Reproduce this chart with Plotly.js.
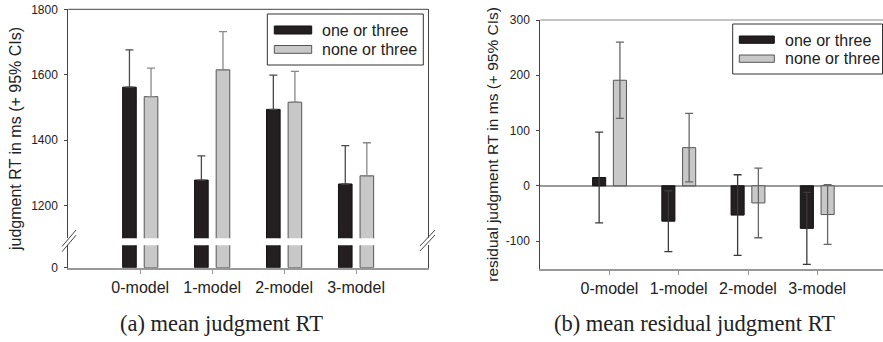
<!DOCTYPE html>
<html>
<head>
<meta charset="utf-8">
<script src="https://cdn.plot.ly/plotly-3.0.1.min.js"></script>
<style>
  html, body { margin: 0; padding: 0; background: #fff; }
  #chart { width: 883px; height: 342px; }
</style>
</head>
<body>
<div id="chart"></div>
<script>
// ---- data ----
const categories = ['0-model', '1-model', '2-model', '3-model'];
const seriesNames = ['one or three', 'none or three'];

// (a) mean judgment RT (ms) and 95% CI half-widths
const meanRT_one  = [1562, 1278, 1494, 1266];
const meanRT_none = [1533, 1615, 1516, 1291];
const ciRT_one    = [114, 74, 105, 117];
const ciRT_none   = [87, 117, 94, 101];

// (b) mean residual judgment RT (ms) and 95% CI half-widths
const resid_one    = [15, -64, -53, -77];
const resid_none   = [191, 69, -31, -52];
const ciResid_one  = [82, 55, 73, 65];
const ciResid_none = [69, 62, 63, 54];

// tick labels
const leftTicksUpper = [1200, 1400, 1600, 1800];
const leftTicksLower = [0];
const rightTicks = [-100, 0, 100, 200, 300];

const captions = ['(a) mean judgment RT', '(b) mean residual judgment RT'];
const yTitles = ['judgment RT in ms (+ 95% CIs)', 'residual judgment RT in ms (+ 95% CIs)'];

// ---- layout helpers (pixel -> paper, margins are 0) ----
const W = 883, H = 342;
const px = x => x / W;
const py = y => 1 - y / H;

const BLACK = '#231f20', GRAY = '#c8c8c8';
const zeros = categories.map(() => 0);

function barTrace(name, y, color, lineColor, xa, ya, err, errColor, oneSided) {
  const t = {
    type: 'bar', name: name, x: categories, y: y,
    xaxis: xa, yaxis: ya,
    marker: { color: color, line: { color: lineColor, width: 1 } },
    hoverinfo: 'skip'
  };
  if (err) {
    t.error_y = oneSided
      ? { type: 'data', array: err, arrayminus: zeros, symmetric: false, color: errColor, thickness: 1.3, width: 4 }
      : { type: 'data', array: err, symmetric: true, color: errColor, thickness: 1.3, width: 4 };
  }
  return t;
}

const data = [
  // left chart, upper segment
  barTrace(seriesNames[0], meanRT_one,  BLACK, '#111', 'x', 'y', ciRT_one,  '#4a4a4a', true),
  barTrace(seriesNames[1], meanRT_none, GRAY,  '#555', 'x', 'y', ciRT_none, '#888', true),
  // left chart, lower segment (below the axis break)
  barTrace(seriesNames[0], meanRT_one,  BLACK, '#111', 'x', 'y3', null),
  barTrace(seriesNames[1], meanRT_none, GRAY,  '#555', 'x', 'y3', null),
  // right chart
  barTrace(seriesNames[0], resid_one,  BLACK, '#111', 'x2', 'y2', ciResid_one,  '#3a3a3a', false),
  barTrace(seriesNames[1], resid_none, GRAY,  '#555', 'x2', 'y2', ciResid_none, '#666', false)
];

const tickFont = { family: 'Liberation Sans, Arial, sans-serif', size: 12, color: '#222' };
const catFont  = { family: 'Liberation Sans, Arial, sans-serif', size: 16, color: '#222' };

const xCommon = {
  type: 'category', showgrid: false, zeroline: false, showline: true,
  linecolor: '#999', linewidth: 2, ticks: 'outside', ticklen: 4, tickcolor: '#999',
  tickfont: catFont, ticklabelstandoff: 0, fixedrange: true
};
const yCommon = {
  showgrid: false, showline: true, linecolor: '#444', linewidth: 1,
  ticks: 'outside', ticklen: 3, tickcolor: '#444', tickfont: tickFont,
  ticklabelstandoff: 4, fixedrange: true
};

const shapes = [];
const annotations = [];
const line = (x0, y0, x1, y1, color, width) => shapes.push({
  type: 'line', xref: 'paper', yref: 'paper',
  x0: px(x0), y0: py(y0), x1: px(x1), y1: py(y1),
  line: { color: color, width: width || 1 }
});
const rect = (x0, y0, x1, y1, fill, color) => shapes.push({
  type: 'rect', xref: 'paper', yref: 'paper',
  x0: px(x0), y0: py(y0), x1: px(x1), y1: py(y1),
  fillcolor: fill, line: { color: color, width: 1 }
});
const text = (x, y, t, opts) => annotations.push(Object.assign({
  xref: 'paper', yref: 'paper', x: px(x), y: py(y), text: t,
  showarrow: false, xanchor: 'left', yanchor: 'middle',
  font: { family: 'Liberation Sans, Arial, sans-serif', size: 16, color: '#222' }
}, opts || {}));

// left chart frame: top line
shapes.push({ type: 'line', xref: 'x domain', yref: 'y domain', x0: 0, x1: 1, y0: 1, y1: 1,
  line: { color: '#444', width: 1 } });
// axis break marks (left and right)
line(62, 246.5, 76, 230, '#444'); line(62, 251.7, 76, 235.2, '#444');
line(420, 246, 435, 230, '#444'); line(420, 251, 435, 235, '#444');

// right chart top line
shapes.push({ type: 'line', xref: 'x2 domain', yref: 'y2 domain', x0: 0, x1: 1, y0: 1, y1: 1,
  line: { color: '#888', width: 1 } });

// legends
rect(267.3, 14, 423.3, 65, '#fff', '#333');
rect(274.3, 26, 311.7, 34, BLACK, '#111');
rect(274.3, 45.5, 311.7, 53.3, GRAY, '#555');
text(320, 30, seriesNames[0]);
text(320, 49.3, seriesNames[1]);

rect(732.7, 24, 882.5, 74, '#fff', '#333');
rect(739.3, 36, 774.3, 43.3, BLACK, '#111');
rect(739.3, 55, 774.3, 62.3, GRAY, '#555');
text(783.3, 40, seriesNames[0]);
text(783.3, 58.3, seriesNames[1]);

// axis titles
text(15, 139, yTitles[0], { textangle: -90, xanchor: 'center' });
text(491.7, 144, yTitles[1], { textangle: -90, xanchor: 'center',
  font: { family: 'Liberation Sans, Arial, sans-serif', size: 15.5, color: '#222' } });

// captions
const capFont = { family: 'Liberation Serif, Times New Roman, serif', size: 22.5, color: '#222' };
text(221.5, 323, captions[0], { xanchor: 'center', font: capFont });
text(694, 323, captions[1], { xanchor: 'center', font: capFont });

const layout = {
  width: W, height: H,
  margin: { l: 0, r: 0, t: 0, b: 0, pad: 0 },
  paper_bgcolor: '#fff', plot_bgcolor: 'rgba(0,0,0,0)',
  showlegend: false,
  barmode: 'group', bargap: 0.4, bargroupgap: 0.37,
  font: { family: 'Liberation Sans, Arial, sans-serif', color: '#222' },
  xaxis: Object.assign({}, xCommon, { domain: [px(68.3), px(428)], range: [-1, 4], anchor: 'y3' }),
  yaxis: Object.assign({}, yCommon, {
    domain: [py(238.3), py(9.3)], range: [1100, 1800], anchor: 'x',
    tickvals: leftTicksUpper, ticktext: leftTicksUpper.map(String), zeroline: false, mirror: true
  }),
  yaxis3: Object.assign({}, yCommon, {
    domain: [py(267.7), py(245.3)], range: [0, 100], anchor: 'x',
    tickvals: leftTicksLower, ticktext: leftTicksLower.map(String), zeroline: false, mirror: true
  }),
  xaxis2: Object.assign({}, xCommon, { domain: [px(540.3), 1], range: [-1, 3.95], anchor: 'y2' }),
  yaxis2: Object.assign({}, yCommon, {
    domain: [py(268.7), py(20)], range: [-150, 300], anchor: 'x2',
    tickvals: rightTicks, ticktext: rightTicks.map(String),
    zeroline: true, zerolinecolor: '#999', zerolinewidth: 1.5
  }),
  shapes: shapes,
  annotations: annotations
};

Plotly.newPlot('chart', data, layout, { staticPlot: true, displayModeBar: false });
</script>
</body>
</html>
